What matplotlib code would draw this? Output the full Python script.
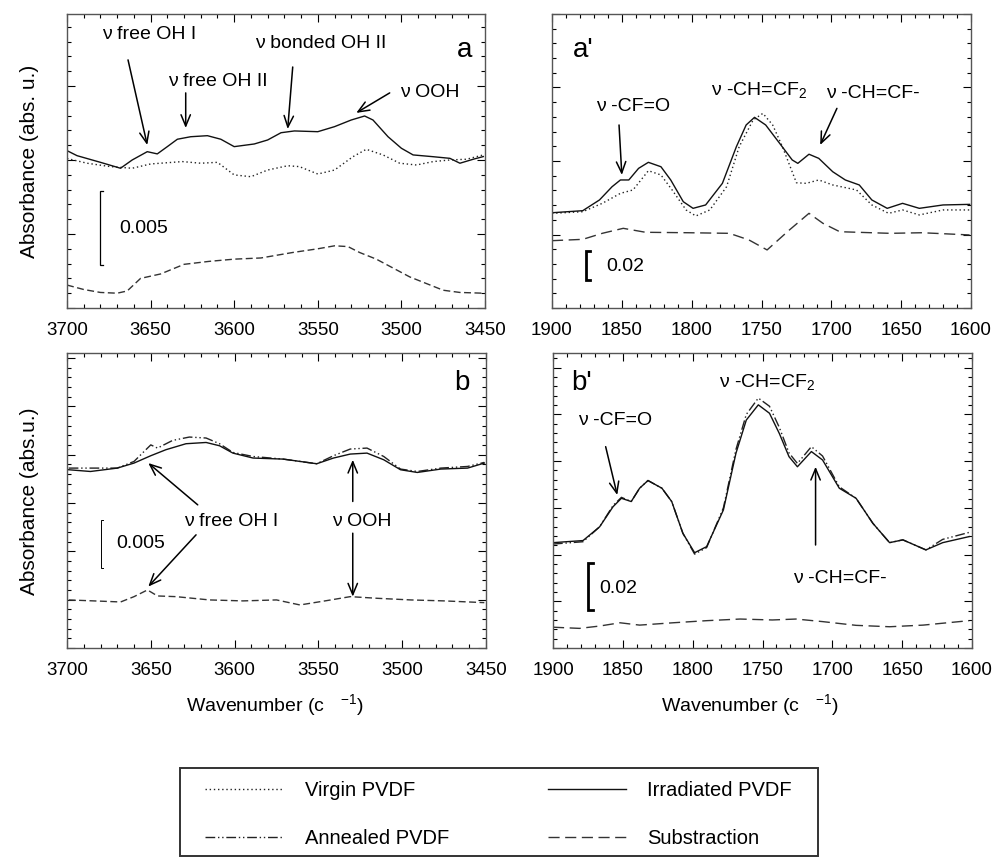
import matplotlib
matplotlib.use("Agg")
import matplotlib.pyplot as plt
from matplotlib.lines import Line2D
from matplotlib.patches import Rectangle
from matplotlib.ticker import MultipleLocator

plt.rcParams['font.family'] = ['Liberation Sans', 'DejaVu Sans']
plt.rcParams['mathtext.default'] = 'regular'
plt.rcParams['font.size'] = 13.5

# ---- panel a : 3700-3450 cm-1 (y in 1e-3 abs. units) ----
a_wn_irr = [3700, 3694, 3680, 3668, 3661, 3652, 3646, 3640, 3634, 3626, 3616, 3608, 3600, 3588, 3580,
            3572, 3564, 3550, 3540, 3530, 3522, 3517, 3508, 3500, 3493, 3481, 3471, 3465, 3457, 3451]
a_irr = [10.63, 10.29, 9.84, 9.44, 10.0, 10.56, 10.41, 10.90, 11.40, 11.57, 11.64, 11.40, 10.90, 11.08, 11.35,
         11.84, 11.96, 11.91, 12.25, 12.70, 12.97, 12.70, 11.57, 10.79, 10.34, 10.22, 10.11, 9.78, 10.05, 10.23]
a_wn_vir = [3700, 3688, 3674, 3661, 3650, 3631, 3620, 3610, 3600, 3590, 3580, 3568, 3561, 3550, 3540, 3529,
            3521, 3511, 3501, 3491, 3481, 3471, 3461, 3451]
a_vir = [10.1, 9.78, 9.55, 9.44, 9.73, 9.89, 9.78, 9.84, 8.99, 8.87, 9.32, 9.61, 9.55, 9.05, 9.32, 10.22,
         10.72, 10.34, 9.78, 9.66, 9.89, 10.0, 10.05, 10.34]
a_wn_sub = [3700, 3690, 3680, 3670, 3664, 3656, 3644, 3630, 3615, 3600, 3584, 3565, 3550, 3540, 3532,
            3525, 3515, 3505, 3495, 3485, 3475, 3465, 3451]
a_sub = [1.55, 1.25, 1.05, 1.0, 1.15, 2.0, 2.3, 2.95, 3.15, 3.3, 3.38, 3.75, 4.0, 4.2, 4.15,
         3.75, 3.3, 2.7, 2.1, 1.65, 1.2, 1.05, 1.0]

# ---- panel a' : 1900-1600 cm-1 (absorbance) ----
ap_wn_irr = [1900, 1878, 1866, 1857, 1851, 1845, 1838, 1831, 1822, 1815, 1806, 1799, 1790, 1778, 1768, 1761,
             1755, 1747, 1737, 1728, 1724, 1716, 1709, 1699, 1690, 1680, 1671, 1660, 1649, 1637, 1620, 1601]
ap_irr = [0.0648, 0.0662, 0.0735, 0.0825, 0.0871, 0.0871, 0.0950, 0.0991, 0.0961, 0.0871, 0.0723, 0.0678,
          0.0701, 0.0848, 0.1097, 0.1245, 0.1297, 0.1245, 0.1120, 0.1007, 0.0984, 0.1046, 0.1018, 0.0927,
          0.0871, 0.0837, 0.0735, 0.0678, 0.0712, 0.0678, 0.0701, 0.0705]
ap_wn_vir = [1900, 1878, 1864, 1851, 1842, 1831, 1822, 1814, 1804, 1797, 1787, 1775, 1766, 1756, 1749, 1742,
             1735, 1725, 1718, 1709, 1699, 1682, 1671, 1659, 1649, 1637, 1620, 1601]
ap_vir = [0.0644, 0.0655, 0.0712, 0.0780, 0.0803, 0.0934, 0.0905, 0.0803, 0.0667, 0.0626, 0.0667, 0.0825,
          0.1097, 0.1279, 0.1324, 0.1245, 0.1097, 0.0852, 0.0848, 0.0871, 0.0837, 0.0803, 0.0701, 0.0644,
          0.0667, 0.0633, 0.0667, 0.0667]
ap_wn_sub = [1900, 1878, 1864, 1849, 1833, 1802, 1773, 1759, 1746, 1730, 1716, 1706, 1694, 1658, 1635, 1601]
ap_sub = [0.0458, 0.0467, 0.0508, 0.0542, 0.0515, 0.0512, 0.0508, 0.0463, 0.0395, 0.0531, 0.0644, 0.0576,
          0.0519, 0.0508, 0.0512, 0.0497]

# ---- panel b : 3700-3450 cm-1 (y in 1e-3 abs. units) ----
b_wn_irr = [3699, 3686, 3670, 3660, 3650, 3641, 3629, 3617, 3609, 3601, 3589, 3571, 3551, 3541, 3531, 3521,
            3511, 3501, 3491, 3477, 3461, 3451]
b_irr = [18.43, 18.25, 18.6, 19.12, 19.88, 20.5, 21.12, 21.25, 20.91, 20.15, 19.64, 19.53, 19.05, 19.64,
         20.05, 20.15, 19.46, 18.43, 18.15, 18.5, 18.6, 19.12]
b_wn_ann = [3699, 3670, 3660, 3654, 3650, 3646, 3637, 3627, 3617, 3609, 3601, 3589, 3571, 3551, 3541, 3531,
            3521, 3511, 3501, 3491, 3477, 3461, 3451]
b_ann = [18.6, 18.6, 19.29, 20.32, 21.0, 20.67, 21.46, 21.81, 21.71, 21.12, 20.22, 19.8, 19.53, 19.05, 19.88,
         20.57, 20.67, 19.8, 18.5, 18.25, 18.6, 18.77, 19.19]
b_wn_sub = [3699, 3684, 3668, 3660, 3652, 3646, 3635, 3615, 3595, 3575, 3561, 3545, 3531, 3515, 3495, 3475, 3451]
b_sub = [4.97, 4.87, 4.76, 5.31, 6.0, 5.38, 5.31, 4.97, 4.87, 4.97, 4.45, 4.9, 5.31, 5.14, 4.97, 4.87, 4.69]

# ---- panel b' : 1900-1600 cm-1 (absorbance) ----
bp_wn = [1900, 1878.5, 1866.6, 1857, 1851, 1844, 1838, 1832, 1822, 1815, 1807, 1798.6, 1790, 1778, 1769,
         1761.6, 1753, 1745, 1738, 1731, 1725, 1715, 1707, 1695, 1683, 1671, 1659, 1649.5, 1633, 1621, 1602]
bp_irr = [0.0451, 0.0460, 0.0519, 0.0605, 0.0641, 0.0627, 0.0684, 0.0717, 0.0684, 0.0627, 0.0491, 0.0408,
          0.0434, 0.0591, 0.0834, 0.0976, 0.1041, 0.1005, 0.0919, 0.0819, 0.0776, 0.0841, 0.0805, 0.0684,
          0.0641, 0.0534, 0.0451, 0.0463, 0.0420, 0.0451, 0.0477]
bp_ann = [0.0445, 0.0455, 0.0519, 0.0610, 0.0645, 0.0627, 0.0684, 0.0717, 0.0684, 0.0627, 0.0491, 0.0402,
          0.0430, 0.0600, 0.0850, 0.1000, 0.1070, 0.1035, 0.0945, 0.0835, 0.0790, 0.0862, 0.0822, 0.0690,
          0.0641, 0.0534, 0.0451, 0.0463, 0.0420, 0.0465, 0.0495]
bp_wn_sub = [1900, 1881, 1866.6, 1852, 1838, 1814, 1790, 1766, 1743, 1726, 1707, 1683, 1659, 1635, 1602]
bp_sub = [0.0089, 0.0084, 0.0094, 0.0108, 0.0098, 0.0108, 0.0117, 0.0124, 0.0120, 0.0124, 0.0113, 0.0097,
          0.0091, 0.0098, 0.0117]

# line styles
VIRGIN = dict(color='#222222', lw=1.0, ls=(0, (1, 2)))
IRRAD = dict(color='#111111', lw=1.0, ls='-')
ANNEAL = dict(color='#222222', lw=1.0, ls=(0, (7, 2, 1, 2, 1, 2)))
SUBST = dict(color='#333333', lw=1.0, ls=(0, (8, 4)))
SUBST_SHORT = dict(SUBST, ls=(0, (5, 2.5)))

W, H = 994, 859
fig = plt.figure(figsize=(W / 100, H / 100), dpi=100)


def add_ax(x0, y0, x1, y1):
    return fig.add_axes([x0 / W, 1 - y1 / H, (x1 - x0) / W, (y1 - y0) / H])


ax_a = add_ax(67, 14, 485, 308)
ax_ap = add_ax(552, 14, 971, 308)
ax_b = add_ax(67, 353, 486, 648)
ax_bp = add_ax(553, 353, 972, 648)


def style(ax, xlim, ylim, ymaj, ymin):
    ax.set_xlim(*xlim)
    ax.set_ylim(*ylim)
    ax.xaxis.set_major_locator(MultipleLocator(50))
    ax.xaxis.set_minor_locator(MultipleLocator(10))
    ax.yaxis.set_major_locator(MultipleLocator(ymaj))
    ax.yaxis.set_minor_locator(MultipleLocator(ymin))
    ax.tick_params(which='both', direction='in', top=True, right=True, labelleft=False)
    ax.tick_params(which='major', length=6, width=0.8, pad=10, labelsize=13.5)
    ax.tick_params(which='minor', length=3, width=0.8)
    for s in ax.spines.values():
        s.set_linewidth(1.0)
        s.set_color('#555555')


style(ax_a, (3700, 3450), (0, 19.86), 5, 1)
style(ax_ap, (1900, 1600), (0, 0.2), 0.05, 0.01)
style(ax_b, (3700, 3450), (0, 30.5), 5, 1)
style(ax_bp, (1900, 1600), (0, 0.1263), 0.02, 0.004)

ax_a.plot(a_wn_vir, a_vir, **VIRGIN)
ax_a.plot(a_wn_irr, a_irr, **IRRAD)
ax_a.plot(a_wn_sub, a_sub, **SUBST_SHORT)

ax_ap.plot(ap_wn_vir, ap_vir, **VIRGIN)
ax_ap.plot(ap_wn_irr, ap_irr, **IRRAD)
ax_ap.plot(ap_wn_sub, ap_sub, **SUBST)

ax_b.plot(b_wn_ann, b_ann, **ANNEAL)
ax_b.plot(b_wn_irr, b_irr, **IRRAD)
ax_b.plot(b_wn_sub, b_sub, **SUBST_SHORT)

ax_bp.plot(bp_wn, bp_ann, **ANNEAL)
ax_bp.plot(bp_wn, bp_irr, **IRRAD)
ax_bp.plot(bp_wn_sub, bp_sub, **SUBST)


def scale_bar(ax, x, y0, y1, dx, label, lx, ly, lw):
    ax.plot([x - dx, x, x, x - dx], [y0, y0, y1, y1], color='black', lw=lw,
            solid_joinstyle='miter')
    ax.text(lx, ly, label, ha='left', va='center', fontsize=14)


scale_bar(ax_a, 3680, 2.9, 7.9, 1.5, '0.005', 3669, 5.34, 0.9)
scale_bar(ax_ap, 1875.7, 0.019, 0.039, 3.0, '0.02', 1861, 0.0281, 2.0)
scale_bar(ax_b, 3680, 8.25, 13.25, 1.5, '0.005', 3670.4, 10.77, 0.7)
scale_bar(ax_bp, 1874.7, 0.0163, 0.0363, 3.0, '0.02', 1866.6, 0.0256, 2.0)

ARROW = dict(arrowstyle='->,head_length=0.6,head_width=0.25', lw=1.1, color='black',
             shrinkA=0, shrinkB=0)


def arrow(ax, tail, head):
    ax.annotate('', xy=head, xytext=tail, arrowprops=ARROW)


FS = 14
# panel a labels
ax_a.text(3651, 18.5, 'ν free OH I', ha='center', va='center', fontsize=FS)
arrow(ax_a, (3663.5, 16.76), (3652, 11.01))
ax_a.text(3610, 15.27, 'ν free OH II', ha='center', va='center', fontsize=FS)
arrow(ax_a, (3629, 14.53), (3629, 12.16))
ax_a.text(3548, 17.9, 'ν bonded OH II', ha='center', va='center', fontsize=FS)
arrow(ax_a, (3565, 16.28), (3568, 12.09))
ax_a.text(3501, 14.53, 'ν OOH', ha='left', va='center', fontsize=FS)
arrow(ax_a, (3507, 14.53), (3527, 13.18))
ax_a.text(3462, 17.43, 'a', ha='center', va='center', fontsize=20)

# panel a' labels
ax_ap.text(1885, 0.1755, "a'", ha='left', va='center', fontsize=20)
ax_ap.text(1842, 0.137, 'ν -CF=O', ha='center', va='center', fontsize=FS)
arrow(ax_ap, (1852, 0.1245), (1850, 0.0905))
ax_ap.text(1752, 0.148, 'ν -CH=CF$_2$', ha='center', va='center', fontsize=FS)
ax_ap.text(1670, 0.146, 'ν -CH=CF-', ha='center', va='center', fontsize=FS)
arrow(ax_ap, (1696, 0.1358), (1708, 0.1109))

# panel b labels
ax_b.text(3464.5, 27.4, 'b', ha='center', va='center', fontsize=20)
ax_b.text(3602, 13.07, 'ν free OH I', ha='center', va='center', fontsize=FS)
arrow(ax_b, (3622, 14.8), (3651.5, 19.12))
arrow(ax_b, (3623, 11.7), (3651.5, 6.35))
ax_b.text(3524, 13.07, 'ν OOH', ha='center', va='center', fontsize=FS)
arrow(ax_b, (3529.5, 15.15), (3529.5, 19.46))
arrow(ax_b, (3529.5, 11.87), (3529.5, 5.31))

# panel b' labels
ax_bp.text(1887, 0.1134, "b'", ha='left', va='center', fontsize=20)
ax_bp.text(1746.7, 0.114, 'ν -CH=CF$_2$', ha='center', va='center', fontsize=FS)
ax_bp.text(1855.8, 0.0976, 'ν -CF=O', ha='center', va='center', fontsize=FS)
arrow(ax_bp, (1862.3, 0.0862), (1854, 0.0655))
ax_bp.text(1694.8, 0.0298, 'ν -CH=CF-', ha='center', va='center', fontsize=FS)
arrow(ax_bp, (1712, 0.0441), (1712, 0.0776))

# axis titles
fig.text(30 / W, 1 - 161 / H, 'Absorbance (abs. u.)', rotation=90, ha='center', va='center', fontsize=15)
fig.text(30 / W, 1 - 501 / H, 'Absorbance (abs.u.)', rotation=90, ha='center', va='center', fontsize=15)
fig.text(275 / W, 1 - 705 / H, 'Wavenumber (c   $^{-1}$)', ha='center', va='center', fontsize=14)
fig.text(750 / W, 1 - 705 / H, 'Wavenumber (c   $^{-1}$)', ha='center', va='center', fontsize=14)

# legend: box drawn separately, entries placed without frame
fig.patches.append(Rectangle((180 / W, 1 - 856 / H), 638 / W, 88 / H, transform=fig.transFigure,
                             fill=False, edgecolor='#333333', lw=1.4))
handles = [Line2D([], [], **VIRGIN), Line2D([], [], **ANNEAL),
           Line2D([], [], **IRRAD), Line2D([], [], **SUBST)]
labels = ['Virgin PVDF', 'Annealed PVDF', 'Irradiated PVDF', 'Substraction']
fig.legend(handles, labels, ncol=2, loc='upper left', bbox_to_anchor=(205 / W, 1 - 781 / H),
           frameon=False, fontsize=14.5, borderpad=0, borderaxespad=0,
           handlelength=3.9, handletextpad=1.05, labelspacing=1.45, columnspacing=4.9)

fig.savefig('out.png', dpi=100)
